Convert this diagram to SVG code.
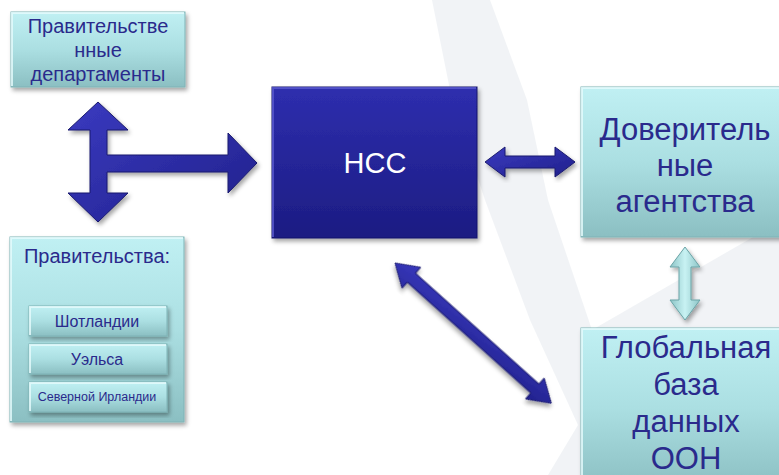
<svg xmlns="http://www.w3.org/2000/svg" width="779" height="475" viewBox="0 0 779 475">
<style>
  .lbl { font-family: "Liberation Sans", Arial, sans-serif; fill: #2a2a8c; text-anchor: middle; }
  .lblw { font-family: "Liberation Sans", Arial, sans-serif; fill: #ffffff; text-anchor: middle; }
  .cyan { fill: url(#gCyan); stroke: #7fb3b6; stroke-width: 1; }
  .navy { fill: url(#gNavy); stroke: #15156a; stroke-width: 1; }
  .hiC { fill: none; stroke: #e6fbfc; stroke-width: 2; opacity: 0.8; }
  .hiN { fill: none; stroke: #5a5ad0; stroke-width: 2; opacity: 0.8; }
  .arrD { fill: url(#gArr); stroke: #1a1a6e; stroke-width: 1; }
  .arrL { fill: url(#gArrL); stroke: #6aa3a6; stroke-width: 1; }
</style>
<defs>
  <linearGradient id="gCyan" x1="0" y1="0" x2="0" y2="1">
    <stop offset="0" stop-color="#c0f0f3"/>
    <stop offset="0.5" stop-color="#abdfe2"/>
    <stop offset="1" stop-color="#8bbfc2"/>
  </linearGradient>
  <linearGradient id="gNavy" x1="0" y1="0" x2="0" y2="1">
    <stop offset="0" stop-color="#2e2eae"/>
    <stop offset="1" stop-color="#1c1c82"/>
  </linearGradient>
  <linearGradient id="gArr" x1="0" y1="0" x2="1" y2="1">
    <stop offset="0" stop-color="#3a3ac0"/>
    <stop offset="1" stop-color="#20208a"/>
  </linearGradient>
  <linearGradient id="gArrL" x1="0" y1="0" x2="1" y2="0">
    <stop offset="0" stop-color="#8cc4c6"/>
    <stop offset="0.5" stop-color="#c8f2f3"/>
    <stop offset="1" stop-color="#8cc4c6"/>
  </linearGradient>
  <filter id="sh" x="-10%" y="-10%" width="130%" height="130%">
    <feDropShadow dx="2" dy="3" stdDeviation="2" flood-color="#000" flood-opacity="0.35"/>
  </filter>
</defs>

<rect x="0" y="0" width="779" height="475" fill="#ffffff"/>
<polygon points="432,0 490,0 527,100 548,200 592,330 779,222 779,475 548,475 578,425 530,320 485,200 452,100" fill="#edf0f4" opacity="0.8"/>

<g id="connectors">
  <path class="arrD" filter="url(#sh)" d="M98,102 L128,130 L107,130 L107,155 L228,155 L228,133 L257,163 L228,193 L228,172 L107,172 L107,193 L128,193 L98,222 L68,193 L90,193 L90,130 L68,130 Z"/>
  <path class="arrD" filter="url(#sh)" d="M485,162 L505,147 L505,156 L555,156 L555,147 L575,162 L555,177 L555,168 L505,168 L505,177 Z"/>
  <path class="arrL" filter="url(#sh)" d="M685,247 L700,267 L691,267 L691,300 L700,300 L685,320 L670,300 L679,300 L679,267 L670,267 Z"/>
  <path class="arrD" filter="url(#sh)" transform="translate(395,263) rotate(41.9)" d="M0,0 L22,-14 L22,-6 L188,-6 L188,-14 L210,0 L188,14 L188,6 L22,6 L22,14 Z"/>
</g>

<g id="node-gov-departments">
  <rect class="cyan" filter="url(#sh)" x="11" y="12" width="174" height="75"/>
  <polyline class="hiC" points="12,86 12,13 184,13"/>
  <text class="lbl" font-size="20" x="98" y="33">Правительстве</text>
  <text class="lbl" font-size="20" x="98" y="57">нные</text>
  <text class="lbl" font-size="20" x="98" y="81">департаменты</text>
</g>

<g id="node-ncc">
  <rect class="navy" filter="url(#sh)" x="272" y="87" width="205" height="151"/>
  <polyline class="hiN" points="273,237 273,88 476,88"/>
  <text class="lblw" font-size="29" x="375" y="173">НСС</text>
</g>

<g id="node-trust-agencies">
  <rect class="cyan" filter="url(#sh)" x="581" y="87" width="210" height="150"/>
  <polyline class="hiC" points="582,236 582,88 790,88"/>
  <text class="lbl" font-size="31" x="685" y="140">Доверитель</text>
  <text class="lbl" font-size="31" x="685" y="176">ные</text>
  <text class="lbl" font-size="31" x="685" y="212">агентства</text>
</g>

<g id="node-un-database">
  <rect class="cyan" filter="url(#sh)" x="581" y="328" width="210" height="160"/>
  <polyline class="hiC" points="582,487 582,329 790,329"/>
  <text class="lbl" font-size="31" x="686" y="358">Глобальная</text>
  <text class="lbl" font-size="31" x="686" y="395">база</text>
  <text class="lbl" font-size="31" x="686" y="432">данных</text>
  <text class="lbl" font-size="31" x="686" y="469">ООН</text>
</g>

<g id="node-governments">
  <rect class="cyan" filter="url(#sh)" x="10" y="237" width="174" height="185"/>
  <polyline class="hiC" points="11,421 11,238 183,238"/>
  <text class="lbl" font-size="20" x="97" y="263">Правительства:</text>
  <g id="node-scotland">
    <rect class="cyan" filter="url(#sh)" x="29" y="306" width="138" height="30"/>
    <polyline class="hiC" points="30,335 30,307 166,307"/>
    <text class="lbl" font-size="16" x="97" y="327">Шотландии</text>
  </g>
  <g id="node-wales">
    <rect class="cyan" filter="url(#sh)" x="29" y="344" width="138" height="30"/>
    <polyline class="hiC" points="30,373 30,345 166,345"/>
    <text class="lbl" font-size="16" x="97" y="365">Уэльса</text>
  </g>
  <g id="node-northern-ireland">
    <rect class="cyan" filter="url(#sh)" x="29" y="382" width="138" height="30"/>
    <polyline class="hiC" points="30,411 30,383 166,383"/>
    <text class="lbl" font-size="12.5" x="97" y="401">Северной Ирландии</text>
  </g>
</g>
</svg>
